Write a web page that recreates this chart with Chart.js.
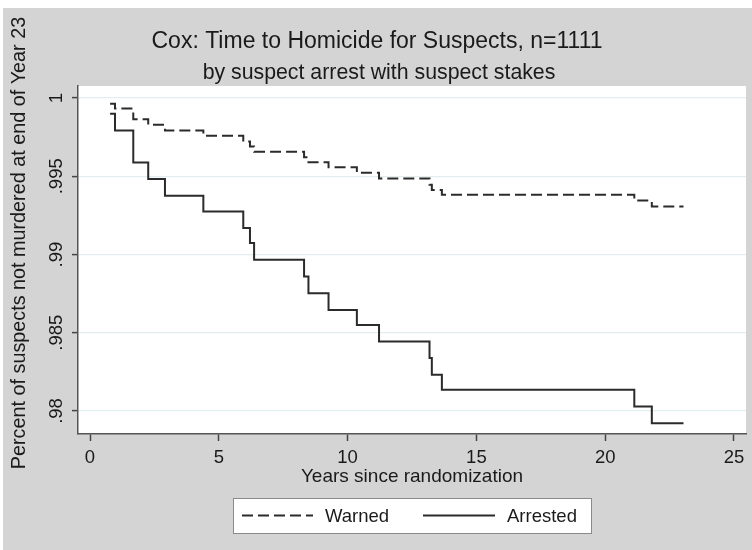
<!DOCTYPE html>
<html>
<head>
<meta charset="utf-8">
<script src="https://cdn.jsdelivr.net/npm/chart.js@4.4.1/dist/chart.umd.min.js"></script>
<style>
  html, body { margin: 0; padding: 0; background: #ffffff; }
  #wrap { width: 752px; height: 550px; position: relative; }
</style>
</head>
<body>
<div id="wrap"><canvas id="c" width="752" height="550"></canvas></div>
<script>
// ---- Data ----
const titleText = "Cox: Time to Homicide for Suspects, n=1111";
const subtitleText = "by suspect arrest with suspect stakes";
const xAxisTitle = "Years since randomization";
const yAxisTitle = "Percent of suspects not murdered at end of Year 23";
const seriesNames = ["Warned", "Arrested"];

const times    = [0.78, 0.97, 1.68, 2.26, 2.91, 4.40, 5.95, 6.21, 6.37, 8.31, 8.48, 9.26, 10.36, 11.22, 13.18, 13.27, 13.66, 21.13, 21.81, 23.04];
const warned   = [0.99964, 0.99934, 0.99865, 0.99829, 0.99793, 0.99759, 0.99722, 0.99690, 0.99657, 0.99621, 0.99590, 0.99558, 0.99522, 0.99486, 0.99446, 0.99412, 0.99382, 0.99345, 0.99307, 0.99307];
const arrested = [0.99899, 0.99792, 0.99588, 0.99482, 0.99375, 0.99275, 0.99169, 0.99073, 0.98966, 0.98859, 0.98753, 0.98646, 0.98550, 0.98444, 0.98338, 0.98231, 0.98135, 0.98028, 0.97922, 0.97922];

const xTicks = [0, 5, 10, 15, 20, 25];
const yTicks = [0.98, 0.985, 0.99, 0.995, 1];
const yTickLabels = [".98", ".985", ".99", ".995", "1"];

// ---- Styling ----
const FONT = "'Liberation Sans', Arial, sans-serif";
const INK = "#1a1a1a";
const LINE = "#2b2b2b";
const BG = "#d4d4d4";

const toPts = (ys) => times.map((t, i) => ({ x: t, y: ys[i] }));

const decor = {
  id: 'decor',
  beforeDraw(chart) {
    const ctx = chart.ctx, a = chart.chartArea;
    ctx.save();
    ctx.fillStyle = '#ffffff';
    ctx.fillRect(0, 0, chart.width, chart.height);
    ctx.fillStyle = BG;
    ctx.fillRect(3, 8, chart.width - 3, chart.height - 8);
    ctx.fillStyle = '#ffffff';
    ctx.fillRect(a.left, a.top, a.right - a.left, a.bottom - a.top);
    ctx.restore();
  },
  afterDraw(chart) {
    const ctx = chart.ctx, a = chart.chartArea;
    const ys = chart.scales.y;
    ctx.save();
    ctx.fillStyle = INK;
    ctx.textAlign = 'center';
    ctx.textBaseline = 'middle';
    // titles
    ctx.font = "23px " + FONT;
    ctx.fillText(titleText, 377, 42);
    ctx.font = "21.3px " + FONT;
    ctx.fillText(subtitleText, 379, 73);
    // x axis title
    ctx.font = "19px " + FONT;
    ctx.fillText(xAxisTitle, (a.left + a.right) / 2, 477);
    // y axis title (rotated)
    ctx.save();
    ctx.translate(20, 243);
    ctx.rotate(-Math.PI / 2);
    ctx.font = "19.8px " + FONT;
    ctx.fillText(yAxisTitle, 0, 0);
    ctx.restore();
    // y tick labels (rotated)
    ctx.font = "18.5px " + FONT;
    yTicks.forEach((v, i) => {
      const py = ys.getPixelForValue(v);
      ctx.save();
      ctx.translate(57, py);
      ctx.rotate(-Math.PI / 2);
      ctx.fillText(yTickLabels[i], 0, 0);
      ctx.restore();
    });
    // legend box
    const lx = 233, ly = 498, lw = 358, lh = 35, cy = ly + lh / 2;
    ctx.fillStyle = '#ffffff';
    ctx.fillRect(lx, ly, lw, lh);
    ctx.strokeStyle = '#8a8a8a';
    ctx.lineWidth = 1;
    ctx.strokeRect(lx + 0.5, ly + 0.5, lw, lh);
    const ds = chart.data.datasets;
    const items = [
      { x0: 242, x1: 313, tx: 325, d: ds[0] },
      { x0: 423, x1: 495, tx: 507, d: ds[1] }
    ];
    items.forEach(it => {
      ctx.strokeStyle = it.d.borderColor;
      ctx.lineWidth = it.d.borderWidth;
      ctx.setLineDash(it.d.borderDash || []);
      ctx.beginPath();
      ctx.moveTo(it.x0, cy);
      ctx.lineTo(it.x1, cy);
      ctx.stroke();
      ctx.setLineDash([]);
      ctx.fillStyle = INK;
      ctx.textAlign = 'left';
      ctx.font = "18.5px " + FONT;
      ctx.fillText(it.d.label, it.tx, cy + 1);
    });
    ctx.restore();
  }
};

new Chart(document.getElementById('c'), {
  type: 'line',
  data: {
    datasets: [
      {
        label: seriesNames[0],
        data: toPts(warned),
        stepped: 'before',
        borderColor: LINE,
        borderWidth: 2,
        borderDash: [11, 5],
        pointRadius: 0,
        fill: false
      },
      {
        label: seriesNames[1],
        data: toPts(arrested),
        stepped: 'before',
        borderColor: LINE,
        borderWidth: 2,
        pointRadius: 0,
        fill: false
      }
    ]
  },
  plugins: [decor],
  options: {
    responsive: false,
    animation: false,
    devicePixelRatio: 1,
    layout: { padding: { left: 72, top: 86, right: 6, bottom: 0 } },
    plugins: {
      legend: { display: false },
      title: { display: false },
      tooltip: { enabled: false }
    },
    scales: {
      x: {
        type: 'linear',
        min: -0.466,
        max: 25.466,
        afterBuildTicks: (s) => { s.ticks = xTicks.map(v => ({ value: v })); },
        afterFit: (s) => { s.height = 116; },
        grid: { drawOnChartArea: false, drawTicks: true, tickLength: 7, tickColor: '#444', tickWidth: 1.5 },
        border: { display: true, color: '#555', width: 1.5 },
        ticks: { color: INK, font: { family: FONT, size: 18.5 }, padding: 6, maxRotation: 0, autoSkip: false }
      },
      y: {
        type: 'linear',
        min: 0.97853,
        max: 1.00077,
        afterBuildTicks: (s) => { s.ticks = yTicks.map(v => ({ value: v })); },
        afterFit: (s) => { s.width = 6; },
        grid: { drawOnChartArea: true, color: '#e4eeee', lineWidth: 1.2, drawTicks: true, tickLength: 6, tickColor: '#444', tickWidth: 1.5 },
        border: { display: true, color: '#555', width: 1.5 },
        ticks: { display: false }
      }
    }
  }
});
</script>
</body>
</html>
